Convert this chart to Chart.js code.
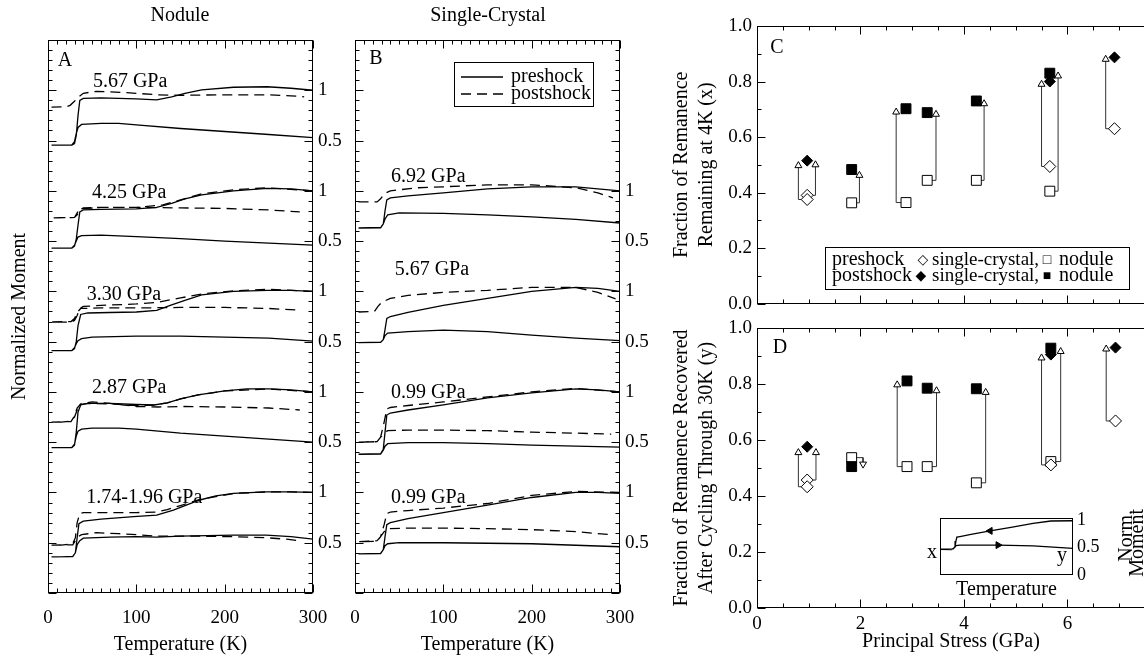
<!DOCTYPE html>
<html>
<head>
<meta charset="utf-8">
<title>Remanence memory after shock</title>
<script src="https://cdn.jsdelivr.net/npm/chart.js@4.4.1/dist/chart.umd.min.js"></script>
<style>
  html, body { margin: 0; padding: 0; background: #fff; }
  body { position: relative; width: 1144px; height: 657px; overflow: hidden; }
  canvas { position: absolute; }
</style>
</head>
<body>
<canvas id="panelA" width="350" height="657" style="left:0;top:0"></canvas>
<canvas id="panelB" width="320" height="657" style="left:350px;top:0"></canvas>
<canvas id="panelC" width="503" height="320" style="left:650px;top:0"></canvas>
<canvas id="panelD" width="503" height="347" style="left:650px;top:310px"></canvas>
<canvas id="inset" width="250" height="105" style="left:900px;top:500px"></canvas>
<script>
const SERIF = '"Liberation Serif", "Times New Roman", "DejaVu Serif", serif';

// --- Normalized moment loops: [T (K), moment] ---
// each loop runs the cooling branch 300 K -> 4 K, then the warming branch back to 300 K

// nodule samples (panel A)
const nod187Pre = [[300,1.00],[275,1.005],[247,1.005],[210,0.99],[190,0.965],[172,0.925],[155,0.87],[142,0.825],[123,0.775],[97,0.76],[60,0.735],[40,0.715],[35,0.69],[33,0.55],[31,0.40],[28,0.365],[15,0.36],[4,0.36],[28,0.362],[31,0.40],[33,0.48],[36,0.52],[40,0.545],[70,0.555],[100,0.56],[123,0.555],[150,0.565],[180,0.57],[210,0.575],[247,0.575],[275,0.56],[300,0.535]];
const nod187Post = [[300,1.00],[275,1.005],[247,1.005],[210,0.99],[172,0.93],[150,0.87],[135,0.83],[123,0.805],[100,0.80],[60,0.80],[40,0.80],[36,0.79],[33,0.70],[31,0.55],[28,0.49],[15,0.477],[4,0.477],[28,0.48],[31,0.52],[34,0.56],[38,0.58],[55,0.60],[80,0.59],[100,0.58],[123,0.565],[172,0.565],[210,0.56],[247,0.55],[270,0.535],[285,0.52]];
const nod287Pre = [[300,1.00],[275,1.02],[250,1.03],[225,1.03],[200,1.01],[170,0.97],[150,0.93],[135,0.89],[120,0.87],[100,0.875],[70,0.885],[45,0.885],[37,0.87],[34,0.80],[32,0.60],[30,0.47],[27,0.445],[4,0.445],[27,0.447],[30,0.48],[32,0.56],[34,0.61],[38,0.63],[50,0.64],[80,0.64],[100,0.63],[125,0.61],[150,0.59],[200,0.56],[250,0.53],[300,0.50]];
const nod287Post = [[300,1.00],[250,1.03],[200,1.01],[170,0.97],[150,0.93],[135,0.89],[120,0.87],[100,0.865],[70,0.88],[45,0.885],[37,0.875],[33,0.82],[30,0.75],[26,0.71],[15,0.70],[4,0.70],[26,0.705],[30,0.76],[33,0.84],[37,0.88],[50,0.90],[70,0.885],[100,0.855],[125,0.85],[150,0.855],[200,0.85],[250,0.84],[285,0.82]];
const nod330Pre = [[300,1.00],[275,1.01],[248,1.01],[210,1.00],[174,0.965],[155,0.91],[140,0.865],[123,0.81],[100,0.795],[70,0.79],[45,0.785],[37,0.77],[34,0.66],[32,0.50],[30,0.43],[27,0.41],[4,0.41],[27,0.412],[30,0.44],[32,0.48],[34,0.51],[38,0.53],[50,0.545],[100,0.555],[150,0.555],[200,0.545],[250,0.535],[300,0.505]];
const nod330Post = [[300,1.00],[250,1.02],[210,1.005],[175,0.975],[150,0.935],[123,0.89],[100,0.875],[60,0.86],[40,0.85],[36,0.83],[33,0.76],[30,0.71],[26,0.695],[4,0.695],[26,0.70],[30,0.73],[33,0.79],[37,0.83],[60,0.835],[100,0.835],[150,0.84],[200,0.84],[250,0.83],[280,0.815]];
const nod425Pre = [[300,1.00],[275,1.02],[248,1.025],[210,1.00],[174,0.96],[155,0.92],[140,0.875],[123,0.835],[100,0.82],[60,0.815],[40,0.81],[36,0.79],[34,0.66],[32,0.52],[30,0.45],[27,0.43],[4,0.43],[27,0.432],[30,0.46],[32,0.50],[34,0.54],[38,0.555],[60,0.56],[100,0.545],[150,0.525],[200,0.50],[250,0.48],[300,0.46]];
const nod425Post = [[300,1.00],[248,1.03],[210,1.01],[174,0.97],[150,0.91],[130,0.86],[100,0.835],[60,0.835],[40,0.83],[36,0.81],[33,0.76],[30,0.735],[4,0.73],[30,0.735],[33,0.78],[36,0.82],[60,0.835],[100,0.835],[150,0.83],[200,0.825],[250,0.81],[285,0.79]];
const nod567Pre = [[300,1.00],[275,1.02],[248,1.035],[210,1.03],[174,1.005],[155,0.97],[140,0.935],[123,0.905],[100,0.915],[60,0.925],[40,0.92],[36,0.90],[34,0.75],[32,0.55],[30,0.47],[27,0.455],[4,0.455],[27,0.457],[30,0.49],[32,0.57],[34,0.63],[38,0.66],[60,0.67],[80,0.67],[100,0.655],[150,0.62],[200,0.59],[250,0.56],[300,0.53]];
const nod567Post = [[4,0.833],[20,0.835],[25,0.85],[30,0.89],[34,0.93],[40,0.97],[55,0.99],[70,0.985],[100,0.97],[123,0.955],[150,0.95],[200,0.955],[250,0.955],[275,0.945],[290,0.935]];

// single-crystal samples (panel B)
const sc099bPre = [[300,0.99],[275,1.00],[250,1.00],[200,0.95],[150,0.875],[100,0.80],[60,0.74],[40,0.70],[36,0.68],[34,0.56],[32,0.43],[29,0.395],[4,0.39],[29,0.392],[32,0.43],[34,0.47],[37,0.49],[50,0.50],[100,0.50],[150,0.495],[200,0.49],[250,0.475],[300,0.46]];
const sc099bPost = [[300,1.00],[250,1.01],[200,0.97],[175,0.93],[150,0.89],[100,0.845],[60,0.82],[40,0.805],[36,0.79],[33,0.68],[29,0.56],[25,0.52],[4,0.51],[25,0.515],[29,0.56],[33,0.61],[37,0.64],[60,0.645],[100,0.645],[150,0.64],[200,0.63],[250,0.61],[290,0.58]];
const sc099aPre = [[300,1.00],[275,1.02],[250,1.03],[200,0.99],[150,0.94],[100,0.87],[60,0.82],[40,0.79],[36,0.77],[34,0.60],[32,0.43],[29,0.385],[4,0.38],[29,0.382],[32,0.42],[34,0.46],[37,0.485],[60,0.495],[100,0.495],[150,0.485],[200,0.47],[250,0.46],[300,0.45]];
const sc099aPost = [[300,1.00],[250,1.035],[200,1.00],[150,0.95],[100,0.90],[60,0.865],[40,0.845],[36,0.83],[33,0.70],[29,0.55],[25,0.505],[4,0.50],[25,0.505],[29,0.55],[33,0.59],[37,0.615],[60,0.62],[100,0.62],[150,0.615],[200,0.60],[250,0.59],[290,0.58]];
const sc567Pre = [[300,1.00],[275,1.03],[250,1.04],[200,1.00],[150,0.93],[100,0.86],[60,0.79],[40,0.75],[36,0.73],[34,0.62],[32,0.52],[29,0.495],[4,0.49],[29,0.492],[32,0.52],[34,0.56],[37,0.585],[60,0.60],[100,0.615],[150,0.60],[200,0.565],[250,0.535],[300,0.51]];
const sc567Post = [[4,0.795],[22,0.80],[26,0.85],[30,0.89],[40,0.93],[60,0.96],[100,0.99],[150,1.01],[200,1.04],[250,1.04],[275,0.99],[295,0.925]];
const sc692Pre = [[300,1.00],[250,1.04],[200,1.04],[150,1.02],[100,0.98],[60,0.95],[40,0.93],[36,0.91],[34,0.80],[32,0.67],[29,0.635],[4,0.63],[29,0.632],[32,0.67],[34,0.72],[37,0.76],[50,0.78],[100,0.775],[150,0.76],[200,0.74],[250,0.715],[300,0.68]];
const sc692Post = [[4,0.89],[25,0.89],[29,0.92],[33,0.97],[40,1.00],[70,1.03],[100,1.04],[150,1.06],[200,1.06],[250,1.03],[275,0.98],[292,0.93]];

// --- Remanence fractions vs principal stress: [GPa, fraction] ---
// C: remaining at 4 K (x)
const scPreC = [[0.97,0.39],[0.97,0.375],[5.66,0.494],[6.91,0.63]];
const scPostC = [[0.97,0.515],[5.66,0.80],[6.91,0.887]];
const nodPreC = [[1.83,0.363],[2.88,0.364],[3.29,0.444],[4.24,0.444],[5.66,0.405]];
const nodPostC = [[1.83,0.483],[2.88,0.702],[3.29,0.688],[4.24,0.73],[5.66,0.83]];
// arrows: [from GPa, from fraction, arrow GPa, head fraction]
const arrowsC = [[0.97,0.375,0.80,0.497],[0.97,0.39,1.13,0.50],[1.83,0.363,1.98,0.462],[2.88,0.364,2.69,0.69],[3.29,0.444,3.46,0.682],[4.24,0.444,4.39,0.72],[5.66,0.494,5.50,0.79],[5.66,0.405,5.82,0.82],[6.91,0.63,6.74,0.88]];

// D: recovered after cycling through 30 K (y)
const scPreD = [[0.97,0.457],[0.97,0.433],[5.68,0.511],[6.93,0.668]];
const scPostD = [[0.97,0.576],[5.68,0.905],[6.93,0.93]];
const nodPreD = [[1.83,0.537],[2.90,0.505],[3.29,0.505],[4.24,0.447],[5.68,0.523]];
const nodPostD = [[1.83,0.505],[2.90,0.811],[3.29,0.785],[4.24,0.783],[5.68,0.928]];
const arrowsD = [[0.97,0.433,0.80,0.555],[0.97,0.457,1.14,0.555],[1.83,0.537,2.05,0.514],[2.90,0.505,2.71,0.797],[3.29,0.505,3.47,0.776],[4.24,0.447,4.42,0.77],[5.68,0.511,5.50,0.893],[5.68,0.523,5.87,0.916],[6.93,0.668,6.75,0.925]];

// sketch loop for the inset, and the two direction arrows on it
const insetLoop = [[300,0.99],[250,0.985],[210,0.94],[160,0.87],[113,0.805],[70,0.74],[45,0.70],[38,0.69],[36,0.62],[34,0.52],[30,0.475],[0,0.47],[26,0.465],[33,0.50],[36,0.535],[45,0.545],[131,0.545],[210,0.53],[300,0.485]];
const insetArrowPts = [[113,0.805],[131,0.545]];

Chart.defaults.font.family = SERIF;
Chart.defaults.font.size = 20;
Chart.defaults.color = '#000';

// --- plugins ---
// box round the plot area plus inward tick marks read off the scales
const framePlugin = {
  id: 'frame',
  afterDatasetsDraw(chart, args, opts) {
    const { ctx, chartArea: a } = chart;
    const L = Math.round(a.left) + 0.5, R = Math.round(a.right) - 0.5;
    const T = Math.round(a.top) + 0.5, B = Math.round(a.bottom) - 0.5;
    const isMajor = (v, step) => Math.abs(v / step - Math.round(v / step)) < 1e-6;
    ctx.save();
    ctx.strokeStyle = '#000';
    ctx.lineWidth = 1;
    ctx.strokeRect(L, T, R - L, B - T);
    ctx.beginPath();
    if (opts.xMajor) {
      const xs = chart.scales.x;
      xs.ticks.forEach(t => {
        const px = Math.round(xs.getPixelForValue(t.value)) + 0.5;
        const len = isMajor(t.value, opts.xMajor) ? 8 : 4;
        ctx.moveTo(px, B); ctx.lineTo(px, B - len);
        ctx.moveTo(px, T); ctx.lineTo(px, T + len);
      });
    }
    if (opts.yMajor) {
      Object.values(chart.scales).forEach(s => {
        if (s.axis !== 'y') return;
        s.ticks.forEach(t => {
          const py = Math.round(s.getPixelForValue(t.value)) + 0.5;
          const len = isMajor(t.value, opts.yMajor) ? 8 : 4;
          if (s.position === 'left') { ctx.moveTo(L, py); ctx.lineTo(L + len, py); }
          else { ctx.moveTo(R, py); ctx.lineTo(R - len, py); }
        });
      });
    }
    ctx.stroke();
    ctx.restore();
  }
};

// free text, legend boxes and legend line samples
const notesPlugin = {
  id: 'notes',
  afterDraw(chart, args, opts) {
    const { ctx, chartArea: a, scales } = chart;
    ctx.save();
    ctx.fillStyle = '#000';
    ctx.strokeStyle = '#000';
    ctx.lineWidth = 1;
    (opts.boxes || []).forEach(([x, y, w, h]) => {
      ctx.strokeRect(Math.round(a.left + x) + 0.5, Math.round(a.top + y) + 0.5, w, h);
    });
    (opts.samples || []).forEach(s => {
      ctx.save();
      ctx.lineWidth = 1.3;
      ctx.setLineDash(s.dash || []);
      ctx.beginPath();
      ctx.moveTo(a.left + s.x1, a.top + s.y);
      ctx.lineTo(a.left + s.x2, a.top + s.y);
      ctx.stroke();
      ctx.restore();
    });
    ctx.textBaseline = 'middle';
    (opts.items || []).forEach(n => {
      let x, y;
      if (n.at === 'data') { x = scales.x.getPixelForValue(n.x); y = scales.y.getPixelForValue(n.y); }
      else if (n.at === 'canvas') { x = n.x; y = n.y; }
      else { x = a.left + n.x; y = a.top + n.y; }
      ctx.font = `${n.size || 20}px ${SERIF}`;
      ctx.textAlign = n.align || 'center';
      ctx.save();
      ctx.translate(x, y);
      if (n.rotate) ctx.rotate(n.rotate * Math.PI / 180);
      ctx.fillText(n.text, 0, 0);
      ctx.restore();
    });
    ctx.restore();
  }
};

// --- helpers ---
const toPts = arr => arr.map(([x, y]) => ({ x, y }));

function loopLine(points, offset, dashed) {
  return {
    data: points.map(([t, m]) => ({ x: t, y: m + offset })),
    showLine: true,
    borderColor: '#000',
    borderWidth: 1.3,
    borderDash: dashed ? [10, 6] : [],
    pointRadius: 0,
    tension: 0
  };
}

// right-hand labels repeat 0.5 / 1 for every stacked loop
const stackLabel = top => v => {
  const r = Math.round(v * 10) / 10;
  if (r <= 0 || r > top + 0.01) return '';
  if (Number.isInteger(r)) return '1';
  if (Number.isInteger(r * 2)) return '0.5';
  return '';
};

// invisible tick marks, used only as spacing under the x labels
const spacerGrid = len => ({ drawOnChartArea: false, drawTicks: true, tickLength: len, color: 'rgba(0,0,0,0)' });

function curvePanel(canvasId, sets, o) {
  const datasets = [];
  sets.forEach(s => {
    datasets.push(loopLine(s.pre, s.offset, false));
    datasets.push(loopLine(s.post, s.offset, true));
  });
  const hidden = { drawOnChartArea: false, drawTicks: false };
  return new Chart(document.getElementById(canvasId), {
    type: 'scatter',
    data: { datasets },
    options: {
      responsive: false,
      animation: false,
      layout: { padding: { top: 40, right: 0, bottom: 0, left: 0 } },
      scales: {
        x: {
          type: 'linear', min: 0, max: 300,
          grid: spacerGrid(14), border: { display: false },
          ticks: { stepSize: 10, autoSkip: false, maxRotation: 0, padding: 0, font: { size: 19 },
                   callback: v => (v % 100 === 0 ? v : '') },
          title: { display: true, text: 'Temperature (K)', padding: 0 },
          afterFit: s => { s.height = 64; }
        },
        y: {
          type: 'linear', position: 'left', min: 0, max: 5.5,
          grid: hidden, border: { display: false },
          ticks: { stepSize: 0.1, autoSkip: false, display: false },
          title: { display: !!o.yTitle, text: o.yTitle || '', padding: { top: 8, bottom: 0 } },
          afterFit: s => { s.width = o.leftWidth; }
        },
        yr: {
          type: 'linear', position: 'right', min: 0, max: 5.5,
          grid: hidden, border: { display: false },
          ticks: { stepSize: 0.1, autoSkip: false, padding: 5, font: { size: 19 }, callback: stackLabel(o.topLabel) },
          afterFit: s => { s.width = o.rightWidth; }
        }
      },
      plugins: {
        legend: { display: false },
        tooltip: { enabled: false },
        frame: { xMajor: 100, yMajor: 0.5 },
        notes: o.notes
      }
    },
    plugins: [framePlugin, notesPlugin]
  });
}

function stressPanel(canvasId, m, o) {
  const datasets = [
    { data: toPts(m.scPost), pointStyle: 'rectRot', pointRadius: 5.5, pointBackgroundColor: '#000', pointBorderColor: '#000', order: 0 },
    { data: toPts(m.nodPost), pointStyle: 'rect', pointRadius: 7, pointBackgroundColor: '#000', pointBorderColor: '#000', order: 0 },
    { data: toPts(m.scPre), pointStyle: 'rectRot', pointRadius: 6, pointBackgroundColor: '#fff', pointBorderColor: '#000', pointBorderWidth: 1, order: 0 },
    { data: toPts(m.nodPre), pointStyle: 'rect', pointRadius: 7, pointBackgroundColor: '#fff', pointBorderColor: '#000', pointBorderWidth: 1, order: 0 },
    {
      data: m.arrows.map(a => ({ x: a[2], y: a[3] })),
      pointStyle: 'triangle', pointRadius: 4,
      pointRotation: c => (m.arrows[c.dataIndex][3] < m.arrows[c.dataIndex][1] ? 180 : 0),
      pointBackgroundColor: '#fff', pointBorderColor: '#000', pointBorderWidth: 1, order: 1
    }
  ];
  m.arrows.forEach(([x0, y0, xa, y1]) => {
    datasets.push({
      data: [{ x: x0, y: y0 }, { x: xa, y: y0 }, { x: xa, y: y1 }],
      showLine: true, pointRadius: 0, borderColor: '#333', borderWidth: 1, order: 2
    });
  });
  const hidden = { drawOnChartArea: false, drawTicks: false };
  return new Chart(document.getElementById(canvasId), {
    type: 'scatter',
    data: { datasets },
    options: {
      responsive: false,
      animation: false,
      layout: { padding: { top: o.top, right: 0, bottom: 0, left: 0 } },
      scales: {
        x: {
          type: 'linear', min: 0, max: 7.5,
          grid: spacerGrid(5), border: { display: false },
          ticks: { stepSize: 0.5, autoSkip: false, maxRotation: 0, display: o.xLabels, padding: 0, font: { size: 19 },
                   callback: v => (Number.isInteger(v / 2) ? v : '') },
          title: { display: o.xLabels, text: 'Principal Stress (GPa)', padding: { top: 0, bottom: 3 } },
          afterFit: s => { s.height = o.xHeight; }
        },
        y: {
          type: 'linear', position: 'left', min: 0, max: 1,
          grid: hidden, border: { display: false },
          ticks: { stepSize: 0.1, autoSkip: false, padding: 5, font: { size: 19 },
                   callback: v => { const k = Math.round(v * 10); return k % 2 === 0 ? (k / 10).toFixed(1) : ''; } },
          title: { display: true, text: o.yTitle, font: { size: 20, lineHeight: 1.25 }, padding: { top: 19.5, bottom: 0 } },
          afterFit: s => { s.width = 107; }
        }
      },
      plugins: {
        legend: { display: false },
        tooltip: { enabled: false },
        frame: { xMajor: 2, yMajor: 0.2 },
        notes: o.notes
      }
    },
    plugins: [framePlugin, notesPlugin]
  });
}

// --- panel A: nodule ---
curvePanel('panelA', [
  { pre: nod187Pre, post: nod187Post, offset: 0 },
  { pre: nod287Pre, post: nod287Post, offset: 1 },
  { pre: nod330Pre, post: nod330Post, offset: 2 },
  { pre: nod425Pre, post: nod425Post, offset: 3 },
  { pre: nod567Pre, post: nod567Post, offset: 4 }
], {
  leftWidth: 48, rightWidth: 37, topLabel: 5, yTitle: 'Normalized Moment',
  notes: {
    items: [
      { text: 'Nodule', at: 'canvas', x: 180, y: 16 },
      { text: 'A', x: 17, y: 21 },
      { text: '5.67 GPa', at: 'data', x: 93, y: 5.08 },
      { text: '4.25 GPa', at: 'data', x: 92, y: 3.98 },
      { text: '3.30 GPa', at: 'data', x: 86, y: 2.97 },
      { text: '2.87 GPa', at: 'data', x: 92, y: 2.04 },
      { text: '1.74-1.96 GPa', at: 'data', x: 109, y: 0.945 }
    ]
  }
});

// --- panel B: single crystal ---
curvePanel('panelB', [
  { pre: sc099bPre, post: sc099bPost, offset: 0 },
  { pre: sc099aPre, post: sc099aPost, offset: 1 },
  { pre: sc567Pre, post: sc567Post, offset: 2 },
  { pre: sc692Pre, post: sc692Post, offset: 3 }
], {
  leftWidth: 5, rightWidth: 50, topLabel: 4, yTitle: '',
  notes: {
    boxes: [[99, 22, 139, 44]],
    samples: [{ x1: 106, x2: 148, y: 37 }, { x1: 106, x2: 148, y: 54, dash: [10, 6] }],
    items: [
      { text: 'Single-Crystal', at: 'canvas', x: 138, y: 16 },
      { text: 'B', x: 21, y: 19 },
      { text: 'preshock', x: 156, y: 37, align: 'left' },
      { text: 'postshock', x: 156, y: 54, align: 'left' },
      { text: '6.92 GPa', at: 'data', x: 83, y: 4.14 },
      { text: '5.67 GPa', at: 'data', x: 87, y: 3.21 },
      { text: '0.99 GPa', at: 'data', x: 83, y: 1.99 },
      { text: '0.99 GPa', at: 'data', x: 83, y: 0.945 }
    ]
  }
});

// --- panel C: fraction remaining at 4 K ---
stressPanel('panelC', { scPre: scPreC, scPost: scPostC, nodPre: nodPreC, nodPost: nodPostC, arrows: arrowsC }, {
  top: 26, xHeight: 14, xLabels: false,
  yTitle: ['Fraction of Remanence', 'Remaining at 4K (x)'],
  notes: {
    boxes: [[68, 221, 304, 42]],
    items: [
      { text: 'C', x: 20, y: 22 },
      { text: 'preshock', x: 75, y: 234, align: 'left' },
      { text: '\u25C7', x: 166, y: 234, size: 14 },
      { text: 'single-crystal,', x: 175, y: 234, align: 'left', size: 19 },
      { text: '\u25A1', x: 290, y: 234, size: 14 },
      { text: 'nodule', x: 302, y: 234, align: 'left' },
      { text: 'postshock', x: 75, y: 250, align: 'left' },
      { text: '\u25C6', x: 164, y: 250, size: 14 },
      { text: 'single-crystal,', x: 175, y: 250, align: 'left', size: 19 },
      { text: '\u25A0', x: 290, y: 250, size: 14 },
      { text: 'nodule', x: 302, y: 250, align: 'left' }
    ]
  }
});

// --- panel D: fraction recovered after cycling through 30 K ---
stressPanel('panelD', { scPre: scPreD, scPost: scPostD, nodPre: nodPreD, nodPost: nodPostD, arrows: arrowsD }, {
  top: 18, xHeight: 49, xLabels: true,
  yTitle: ['Fraction of Remanence Recovered', 'After Cycling Through 30K (y)'],
  notes: { items: [{ text: 'D', x: 23, y: 20 }] }
});

// --- inset: sketch of one loop, x and y defined on it ---
new Chart(document.getElementById('inset'), {
  type: 'scatter',
  data: {
    datasets: [
      {
        data: toPts(insetArrowPts), pointStyle: 'triangle', pointRadius: 4,
        pointRotation: c => (c.dataIndex === 0 ? 270 : 90),
        pointBackgroundColor: '#000', pointBorderColor: '#000'
      },
      { data: toPts(insetLoop), showLine: true, pointRadius: 0, borderColor: '#000', borderWidth: 1.3, tension: 0 }
    ]
  },
  options: {
    responsive: false,
    animation: false,
    layout: { padding: { top: 18, left: 40, right: 0, bottom: 0 } },
    scales: {
      x: {
        type: 'linear', min: 0, max: 300,
        ticks: { display: false }, grid: { display: false, drawTicks: false }, border: { display: false },
        title: { display: true, text: 'Temperature', padding: { top: 0, bottom: 3 } },
        afterFit: s => { s.height = 30; }
      },
      y: {
        type: 'linear', position: 'right', min: 0, max: 1.04,
        grid: { display: false, drawTicks: false }, border: { display: false },
        ticks: { stepSize: 0.5, includeBounds: false, autoSkip: false, padding: 4, font: { size: 18 },
                 callback: v => (v === 0 ? '0' : v === 0.5 ? '0.5' : v === 1 ? '1' : '') },
        afterFit: s => { s.width = 77; }
      }
    },
    plugins: {
      legend: { display: false },
      tooltip: { enabled: false },
      frame: {},
      notes: {
        items: [
          { text: 'x', at: 'canvas', x: 32, y: 53 },
          { text: 'y', at: 'canvas', x: 162, y: 56 },
          { text: 'Norm.', at: 'canvas', x: 227, y: 10, rotate: -90, align: 'right' },
          { text: 'Moment', at: 'canvas', x: 238, y: 9, rotate: -90, align: 'right' }
        ]
      }
    }
  },
  plugins: [framePlugin, notesPlugin]
});
</script>
</body>
</html>
